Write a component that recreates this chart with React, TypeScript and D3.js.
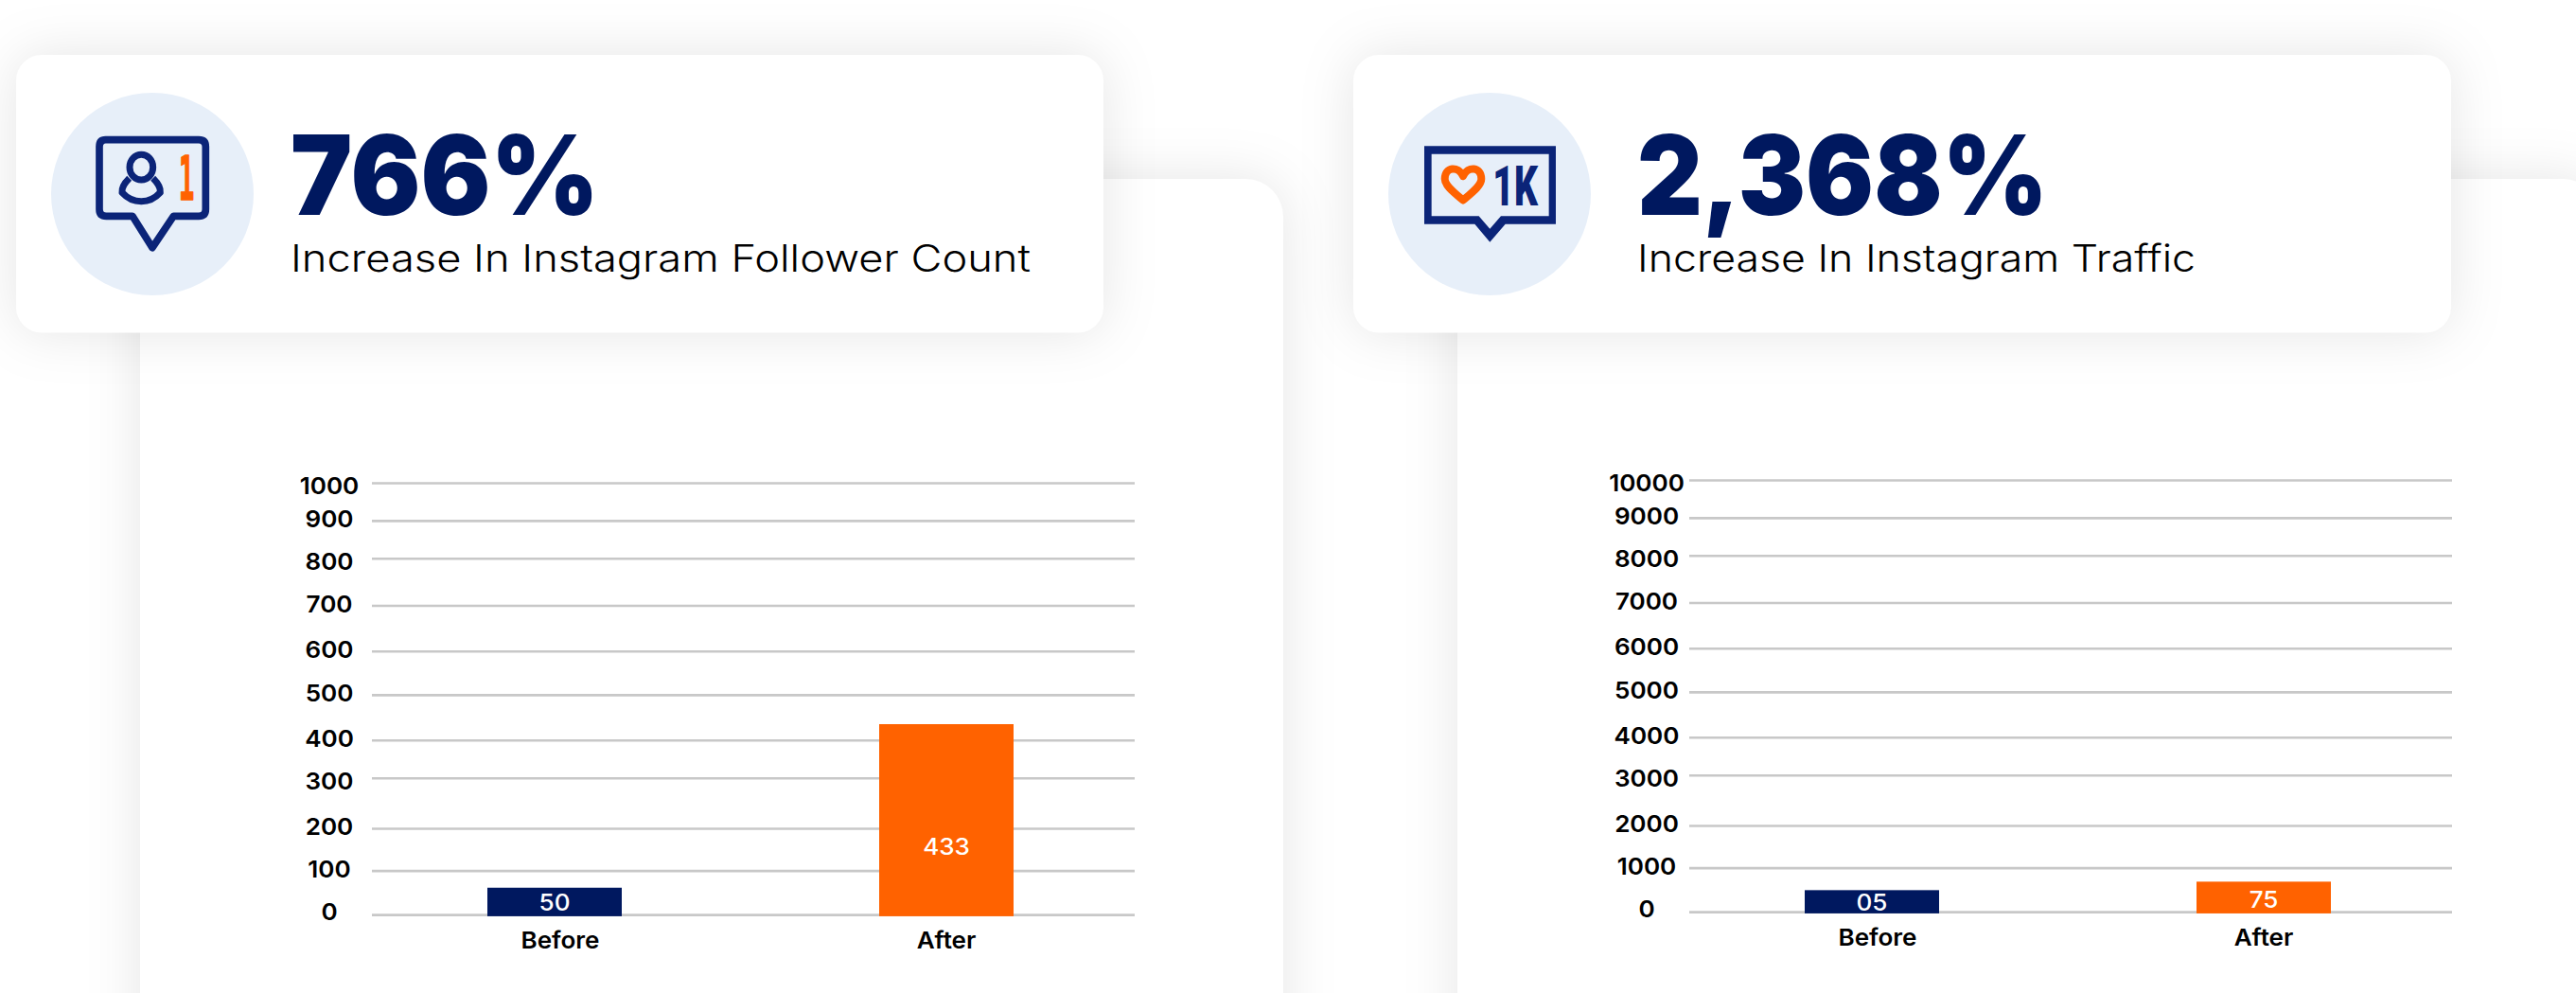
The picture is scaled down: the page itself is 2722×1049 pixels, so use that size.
import React from "react";
import * as d3 from "d3";

// ---- data ----
const categories = ["Before", "After"];
const followerTicks = [0, 100, 200, 300, 400, 500, 600, 700, 800, 900, 1000];
const trafficTicks = [0, 1000, 2000, 3000, 4000, 5000, 6000, 7000, 8000, 9000, 10000];
const followerBars = [62, 436];
const trafficBars = [500, 693];
const followerBarLabels = ["50", "433"];
const trafficBarLabels = ["05", "75"];

// ---- palette & layout ----
const NAVY = "#00185f";
const ICON_NAVY = "#0b2478";
const ORANGE = "#ff6200";
const GRID = "#c8c8c8";
const FONT = "Inter, 'Open Sans', sans-serif";
// the source's gridlines are hand-spaced, so the value scale has one stop per tick
const gridStops = [966.6, 920.1, 875.5, 822.2, 782.2, 734.4, 688.3, 640, 590.3, 550.4, 510.5];
const tickNudge = [-3.3, -2.2, -2.5, 2.5, -2.5, -2.9, -2.2, -1.8, 2.5, -2.9, 2.2];

const base = (y: number, size: number) => y + size * 0.3635;

function Chart({ dx, dy, ticks, bars, labels, valueY, catShift }: any) {
  const y = d3.scaleLinear().domain(ticks).range(gridStops.map((g) => g + dy));
  const x = d3
    .scaleBand<string>()
    .domain(categories)
    .range([379 + dx, 1207 + dx])
    .paddingInner(0.657)
    .paddingOuter(0.3285);
  const bw = x.bandwidth();
  const tickSize = 24.8;
  const sx = 1.05;
  const gx0 = 393 + dx;
  const gx1 = 1199 + dx;
  return (
    <g>
      {ticks.map((t: number, i: number) => (
        <g key={t}>
          <line x1={gx0} x2={gx1} y1={y(t)} y2={y(t)} stroke={GRID} strokeWidth={2.6} />
          <text
            transform={`translate(${348 + dx},${base(y(t) + tickNudge[i], tickSize)}) scale(${sx},1)`}
            textAnchor="middle"
            fontFamily={FONT}
            fontWeight={600}
            fontSize={tickSize}
            fill="#000"
          >
            {t}
          </text>
        </g>
      ))}
      {categories.map((c, i) => {
        const bx = x(c)!;
        const by = y(bars[i]);
        const b0 = y(0) + 1.3;
        return (
          <g key={c}>
            <rect x={bx} y={by} width={bw} height={b0 - by} fill={i === 0 ? NAVY : ORANGE} />
            <text
              transform={`translate(${bx + bw / 2},${base(valueY[i], tickSize)}) scale(${sx},1)`}
              textAnchor="middle"
              fontFamily={FONT}
              fontWeight={500}
              fontSize={tickSize}
              fill="#fff"
            >
              {labels[i]}
            </text>
            <text
              transform={`translate(${bx + bw / 2 + catShift[i]},${base(y(0) + 26.7, tickSize)}) scale(${sx},1)`}
              textAnchor="middle"
              fontFamily={FONT}
              fontWeight={600}
              fontSize={tickSize}
              fill="#000"
            >
              {c}
            </text>
          </g>
        );
      })}
    </g>
  );
}

function Card({ x, width, cx, value, valueLen, sub, subLen, textX, icon }: any) {
  return (
    <g>
      <rect x={x} y={58} width={width} height={293.5} rx={27} fill="#fff" filter="url(#soft)" />
      <circle cx={cx} cy={205} r={107} fill="#e7eff9" />
      {icon}
      <text
        x={textX}
        y={226.7}
        fontFamily={FONT}
        fontWeight={900}
        fontSize={117}
        fill={NAVY}
        textLength={valueLen}
        lengthAdjust="spacingAndGlyphs"
      >
        {value}
      </text>
      <text
        x={textX}
        y={287}
        fontFamily={FONT}
        fontWeight={300}
        fontSize={40}
        fill="#000"
        textLength={subLen}
        lengthAdjust="spacingAndGlyphs"
      >
        {sub}
      </text>
    </g>
  );
}

const FollowerIcon = (
  <g transform="translate(90,130) scale(0.3333)">
    <path
      d="M65 53H360Q382 53 382 75V273Q382 295 360 295H280L213 395L150 295H67Q45 295 45 273V75Q45 53 65 53Z"
      fill="none"
      stroke={ICON_NAVY}
      strokeWidth={23}
      strokeLinejoin="round"
    />
    <ellipse cx={178} cy={140} rx={37} ry={40} fill="none" stroke={ICON_NAVY} strokeWidth={21} />
    <path
      d="M140 175C125 190 115 205 117 220C135 240 155 248 178 248C200 248 220 240 238 220C240 205 230 190 215 175"
      fill="none"
      stroke={ICON_NAVY}
      strokeWidth={21}
    />
    <text
      x={296}
      y={243}
      fontFamily="'DejaVu Sans Mono', monospace"
      fontWeight={700}
      fontSize={190}
      fill={ORANGE}
      stroke={ORANGE}
      strokeWidth={4}
      strokeLinejoin="round"
      textLength={50}
      lengthAdjust="spacingAndGlyphs"
    >
      1
    </text>
  </g>
);

const TrafficIcon = (
  <g>
    <g transform="translate(1500,140) scale(0.3333)">
      <path
        fillRule="evenodd"
        fill={ICON_NAVY}
        d="M15 43H432V290H272L223 347L175 290H15ZM38 68V265H188L223 305L258 265H410V68Z"
      />
      <text
        x={232}
        y={230}
        fontFamily="Roboto, sans-serif"
        fontWeight={900}
        fontSize={176}
        fill={ICON_NAVY}
        textLength={143}
        lengthAdjust="spacingAndGlyphs"
      >
        1K
      </text>
    </g>
    <path
      transform="translate(1000,0)"
      d="M546 211.5C536 203 526.7 196 526.7 189C526.7 176 541 175 546 186C551 175 565.3 176 565.3 189C565.3 196 556 203 546 211.5Z"
      fill="none"
      stroke={ORANGE}
      strokeWidth={8}
      strokeLinejoin="round"
    />
  </g>
);

export default function App() {
  return (
    <svg
      width={2722}
      height={1049}
      viewBox="0 0 2722 1049"
      style={{ position: "absolute", left: 0, top: 0, display: "block", background: "#fff" }}
    >
      <defs>
        <filter id="soft" x="-30%" y="-50%" width="160%" height="200%" colorInterpolationFilters="sRGB">
          <feDropShadow dx={0} dy={0} stdDeviation={28} floodColor="#000" floodOpacity={0.1} />
        </filter>
      </defs>
      <rect x={148} y={189} width={1208} height={1000} rx={40} fill="#fff" filter="url(#soft)" />
      <rect x={1540} y={189} width={1208} height={1000} rx={40} fill="#fff" filter="url(#soft)" />

      <Card
        x={17}
        width={1149}
        cx={161}
        value="766%"
        valueLen={326}
        sub="Increase In Instagram Follower Count"
        subLen={782}
        textX={307}
        icon={FollowerIcon}
      />
      <Card
        x={1430}
        width={1160}
        cx={1574}
        value="2,368%"
        valueLen={434}
        sub="Increase In Instagram Traffic"
        subLen={590}
        textX={1730}
        icon={TrafficIcon}
      />

      <Chart
        dx={0}
        dy={0}
        ticks={followerTicks}
        bars={followerBars}
        labels={followerBarLabels}
        valueY={[952.8, 894]}
        catShift={[6, 0]}
      />
      <Chart
        dx={1392}
        dy={-3}
        ticks={trafficTicks}
        bars={trafficBars}
        labels={trafficBarLabels}
        valueY={[953.2, 950.3]}
        catShift={[6, 0]}
      />
    </svg>
  );
}
